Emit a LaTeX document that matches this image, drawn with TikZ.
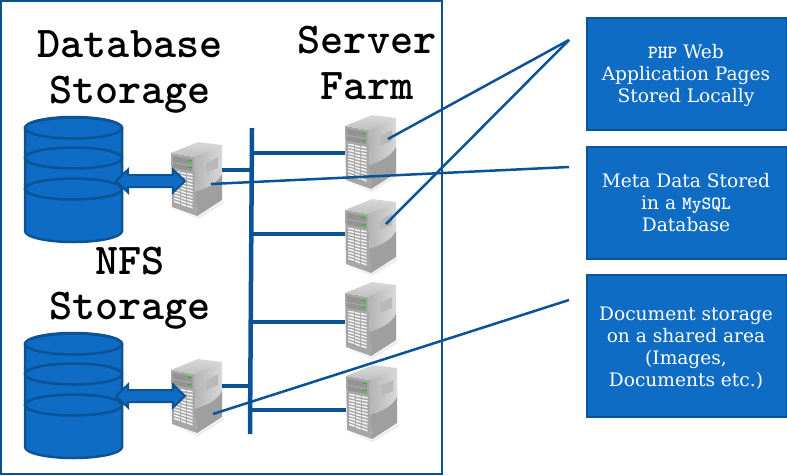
\documentclass[tikz,border=0pt]{standalone}
\usepackage{fontspec}
\setmainfont{DejaVu Serif}
\definecolor{boxblue}{HTML}{0F6CC4}
\definecolor{edgeblue}{HTML}{0B5394}
\tikzset{
  x=1pt,y=-1pt,
  frame/.style={draw=edgeblue,line width=2pt,fill=white},
  wire/.style={draw=edgeblue,line width=2.5pt},
  bus/.style={draw=edgeblue,line width=4.5pt},
  stub/.style={draw=edgeblue,line width=4.5pt},
  callout/.style={draw=edgeblue,fill=boxblue,line width=2pt,minimum width=200pt,anchor=north west,inner sep=0pt},
  calltext/.style={text=white,font=\fontsize{18.6}{22}\selectfont,align=center},
  heading/.style={font=\ttfamily\bfseries\fontsize{44}{45.5}\selectfont,align=center,text=black},
  disk/.style={draw=edgeblue,line width=2.5pt,fill=boxblue},
  dbl/.style={draw=edgeblue,fill=boxblue,line width=2pt},
}
\newcommand{\server}[3]{% name, x, y
  \begin{scope}[shift={(#2,#3)}]
    \fill[black!18,opacity=.4] (1,66) -- (26,75) -- (52,59) -- (53,61) -- (27,77) -- cycle;
    \fill[gray!70] (0,11) -- (23,15) -- (26,74) -- (1,65) -- cycle;
    \shade[top color=gray!30,bottom color=gray!50] (0,11) -- (27,0) -- (51,3) -- (23,15) -- cycle;
    \shade[left color=gray!60,right color=gray!30] (23,15) -- (51,3) -- (51,58) -- (26,74) -- cycle;
    \fill[gray!75] (24.5,50) .. controls (36,46) and (46,42) .. (51,32) -- (51,58) -- (26,74) -- cycle;
    \fill[gray!55] (35,21) -- (47,15) -- (47,26) -- (35,31) -- cycle;
    \fill[gray!85] (2,14) -- (21,17.5) -- (21,23) -- (2,19.5) -- cycle;
    \fill[gray!85] (2,21) -- (21,24.5) -- (21,29) -- (2,25.5) -- cycle;
    \fill[green!80!black] (17,17.5) rectangle (20.5,19);
    \fill[green!80!black] (17,24.5) rectangle (20.5,26);
    \foreach \r in {0,...,10}{
      \fill[white!92!gray] (3,{28.5+3*\r}) -- (9,{29.5+3.1*\r}) -- (9,{31+3.1*\r}) -- (3,{30+3*\r}) -- cycle;
      \fill[white!92!gray] (10,{30+3.1*\r}) -- (15,{31+3.2*\r}) -- (15,{32.5+3.2*\r}) -- (10,{31.5+3.1*\r}) -- cycle;
      \fill[white!92!gray] (16,{31+3.2*\r}) -- (21.5,{32+3.3*\r}) -- (21.5,{33.5+3.3*\r}) -- (16,{32.5+3.2*\r}) -- cycle;
    }
    \coordinate (#1) at (25,37);
  \end{scope}
}
\newcommand{\cylinder}[3]{% x left, y top ellipse centre, name
  \begin{scope}[shift={(#1,#2)}]
    \path[disk] (0,0) -- (0,103) arc[start angle=180,end angle=360,x radius=48.5,y radius=-11] -- (97,0) arc[start angle=0,end angle=180,x radius=48.5,y radius=-11] -- cycle;
    \draw[disk] (48.5,0) ellipse[x radius=48.5,y radius=10.5];
    \draw[disk] (48.5,30) ellipse[x radius=48.5,y radius=10.5];
    \draw[disk] (48.5,61) ellipse[x radius=48.5,y radius=10.5];
    \coordinate (#3) at (97,50);
  \end{scope}
}
\newcommand{\dblarrow}[1]{% centre y
  \path[dbl] (116,#1) -- (128,{#1-11.5}) -- (128,{#1-6}) -- (173,{#1-6}) -- (173,{#1-11.5}) -- (185,#1) -- (173,{#1+11.5}) -- (173,{#1+6}) -- (128,{#1+6}) -- (128,{#1+11.5}) -- cycle;
}
\begin{document}
\begin{tikzpicture}
\useasboundingbox (0,0) rectangle (787,475);
\fill[white] (0,0) rectangle (787,475);
\path[frame] (1,1) rectangle (442,474);

\node[heading] (dbtitle) at (130,72) {Database\\Storage};
\node[heading] (farmtitle) at (367,63) {Server\\Farm};
\node[heading] (nfstitle) at (130,288) {NFS\\Storage};

\cylinder{25}{128}{dbA}
\cylinder{25}{344}{dbB}

\server{srvL}{171}{142}
\server{srvN}{171}{359}
\server{srvA}{345}{115}
\server{srvB}{345}{199}
\server{srvC}{345}{282}
\server{srvD}{346}{365}

\dblarrow{181}
\dblarrow{396}

\coordinate (busT) at (252,128);
\coordinate (busB) at (250,434);
\path[bus] (busT) -- (busB);
\path[stub] (222,170) -- (251,170);
\path[stub] (222,386) -- (251,386);
\path[stub] (251,153) -- (345,153);
\path[stub] (251,234) -- (345,234);
\path[stub] (251,322) -- (345,322);
\path[stub] (251,410) -- (346,410);

\node[callout,minimum height=112pt] (boxA) at (586,17) {};
\node[callout,minimum height=112pt] (boxB) at (586,146) {};
\node[callout,minimum height=142pt] (boxC) at (586,274) {};
\node[calltext] at (686,75) {{\ttfamily\bfseries PHP} Web\\Application Pages\\Stored Locally};
\node[calltext] at (686,203) {Meta Data Stored\\in a {\ttfamily\bfseries MySQL}\\Database};
\node[calltext] at (686,348) {Document storage\\on a shared area\\(Images,\\Documents etc.)};

\coordinate (tipA) at (569,40);
\coordinate (tipB) at (569,167);
\coordinate (tipC) at (569,300);
\coordinate (fromA) at (388,139);
\coordinate (fromB) at (386,224);
\coordinate (fromL) at (211,184);
\coordinate (fromN) at (213,414);
\path[wire] (tipA) -- (fromA);
\path[wire] (tipA) -- (fromB);
\path[wire] (tipB) -- (fromL);
\path[wire] (tipC) -- (fromN);
\end{tikzpicture}
\end{document}
